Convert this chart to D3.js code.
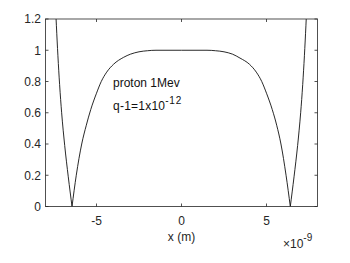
<!DOCTYPE html>
<html>
<head>
<meta charset="utf-8">
<script src="https://cdn.jsdelivr.net/npm/d3@7.9.0/dist/d3.min.js"></script>
<style>
  html, body { margin: 0; padding: 0; background: #fff; }
  svg { display: block; font-family: "Liberation Sans", Arial, Helvetica, sans-serif; }
</style>
</head>
<body>
<svg id="chart" width="350" height="263"></svg>
<script>
// --- data (x in units of 1e-9 m) ---
const xNano = [
  -7.6, -7.45, -7.36, -7.27, -7.17, -7.05, -6.87, -6.66, -6.44,
  -6.19, -5.87, -5.6, -5.34, -5.0, -4.72, -4.4, -4.0, -3.4, -3.0, -2.5, -2.0, -1.5,
  0,
  1.5, 2.0, 2.5, 3.0, 3.44, 4.0, 4.4, 4.72, 5.0, 5.34, 5.6, 5.85, 6.15, 6.4,
  6.62, 6.83, 7.01, 7.13, 7.23, 7.32, 7.41, 7.56
];
const yVals = [
  1.78, 1.38, 1.16, 0.965, 0.78, 0.60, 0.39, 0.19, 0,
  0.20, 0.40, 0.52, 0.62, 0.725, 0.80, 0.86, 0.91, 0.955, 0.975, 0.99, 0.997, 1.0,
  1.0,
  1.0, 0.997, 0.99, 0.975, 0.95, 0.91, 0.86, 0.80, 0.725, 0.62, 0.52, 0.40, 0.20, 0,
  0.19, 0.39, 0.60, 0.78, 0.965, 1.16, 1.38, 1.78
];
const xTicks = [-5e-9, 0, 5e-9];
const xTickLabels = ['-5', '0', '5'];
const yTicks = [0, 0.2, 0.4, 0.6, 0.8, 1, 1.2];
const yTickLabels = ['0', '0.2', '0.4', '0.6', '0.8', '1', '1.2'];

const svg = d3.select('#chart');
const axisColor = '#262626';

const x = d3.scaleLinear().domain([-8e-9, 8e-9]).range([45.5, 317.5]);
const y = d3.scaleLinear().domain([0, 1.2]).range([206.5, 19]);

const [x0, x1] = x.range();
const [yb, yt] = y.range();

svg.append('clipPath').attr('id', 'plot-clip')
  .append('rect')
  .attr('x', x0).attr('y', yt)
  .attr('width', x1 - x0).attr('height', yb - yt);

// split curve at the zero crossings so the V corners stay sharp
const pts = xNano.map((v, i) => [v * 1e-9, yVals[i]]);
const segments = [];
let cur = [];
pts.forEach((p, i) => {
  cur.push(p);
  if (p[1] === 0 && i > 0 && i < pts.length - 1) {
    segments.push(cur);
    cur = [p];
  }
});
segments.push(cur);

const line = d3.line()
  .x(d => x(d[0]))
  .y(d => y(d[1]))
  .curve(d3.curveMonotoneX);

svg.append('g').attr('clip-path', 'url(#plot-clip)')
  .selectAll('path')
  .data(segments)
  .join('path')
  .attr('d', line)
  .attr('fill', 'none')
  .attr('stroke', '#111')
  .attr('stroke-width', 0.9);

// --- axes box & ticks (MATLAB style, ticks inside on all sides) ---
const tickLen = 3;
const g = svg.append('g').attr('stroke', axisColor).attr('stroke-width', 0.8);

g.append('rect')
  .attr('x', x0).attr('y', yt)
  .attr('width', x1 - x0).attr('height', yb - yt)
  .attr('fill', 'none');

xTicks.forEach(t => {
  const px = x(t);
  g.append('line').attr('x1', px).attr('x2', px).attr('y1', yb).attr('y2', yb - tickLen);
  g.append('line').attr('x1', px).attr('x2', px).attr('y1', yt).attr('y2', yt + tickLen);
});
yTicks.forEach(t => {
  const py = y(t);
  g.append('line').attr('x1', x0).attr('x2', x0 + tickLen).attr('y1', py).attr('y2', py);
  g.append('line').attr('x1', x1).attr('x2', x1 - tickLen).attr('y1', py).attr('y2', py);
});

// tick labels
svg.append('g')
  .selectAll('text')
  .data(xTicks)
  .join('text')
  .attr('x', d => x(d))
  .attr('y', 224.5)
  .attr('text-anchor', 'middle')
  .attr('font-size', 12)
  .attr('fill', axisColor)
  .text((d, i) => xTickLabels[i]);

svg.append('g')
  .selectAll('text')
  .data(yTicks)
  .join('text')
  .attr('x', 41)
  .attr('y', d => y(d))
  .attr('dy', '0.36em')
  .attr('text-anchor', 'end')
  .attr('font-size', 12)
  .attr('fill', axisColor)
  .text((d, i) => yTickLabels[i]);

// axis label
svg.append('text')
  .attr('x', 181.5).attr('y', 241)
  .attr('text-anchor', 'middle')
  .attr('font-size', 12)
  .attr('fill', axisColor)
  .text('x (m)');

// exponent
const ex = svg.append('text')
  .attr('x', 283).attr('y', 247.5)
  .attr('font-size', 12)
  .attr('fill', axisColor);
ex.append('tspan').text('\u00d710');
ex.append('tspan').attr('dy', -7).attr('font-size', 10).text('-9');

// annotations
svg.append('text')
  .attr('x', 113).attr('y', 87)
  .attr('font-size', 12)
  .attr('fill', '#111')
  .text('proton 1Mev');

const q = svg.append('text')
  .attr('x', 113).attr('y', 110)
  .attr('font-size', 12)
  .attr('fill', '#111');
q.append('tspan')
  .attr('textLength', 52).attr('lengthAdjust', 'spacing')
  .text('q-1=1x10');
q.append('tspan').attr('dy', -6).attr('font-size', 10)
  .attr('textLength', 16).attr('lengthAdjust', 'spacing')
  .text('-12');
</script>
</body>
</html>
